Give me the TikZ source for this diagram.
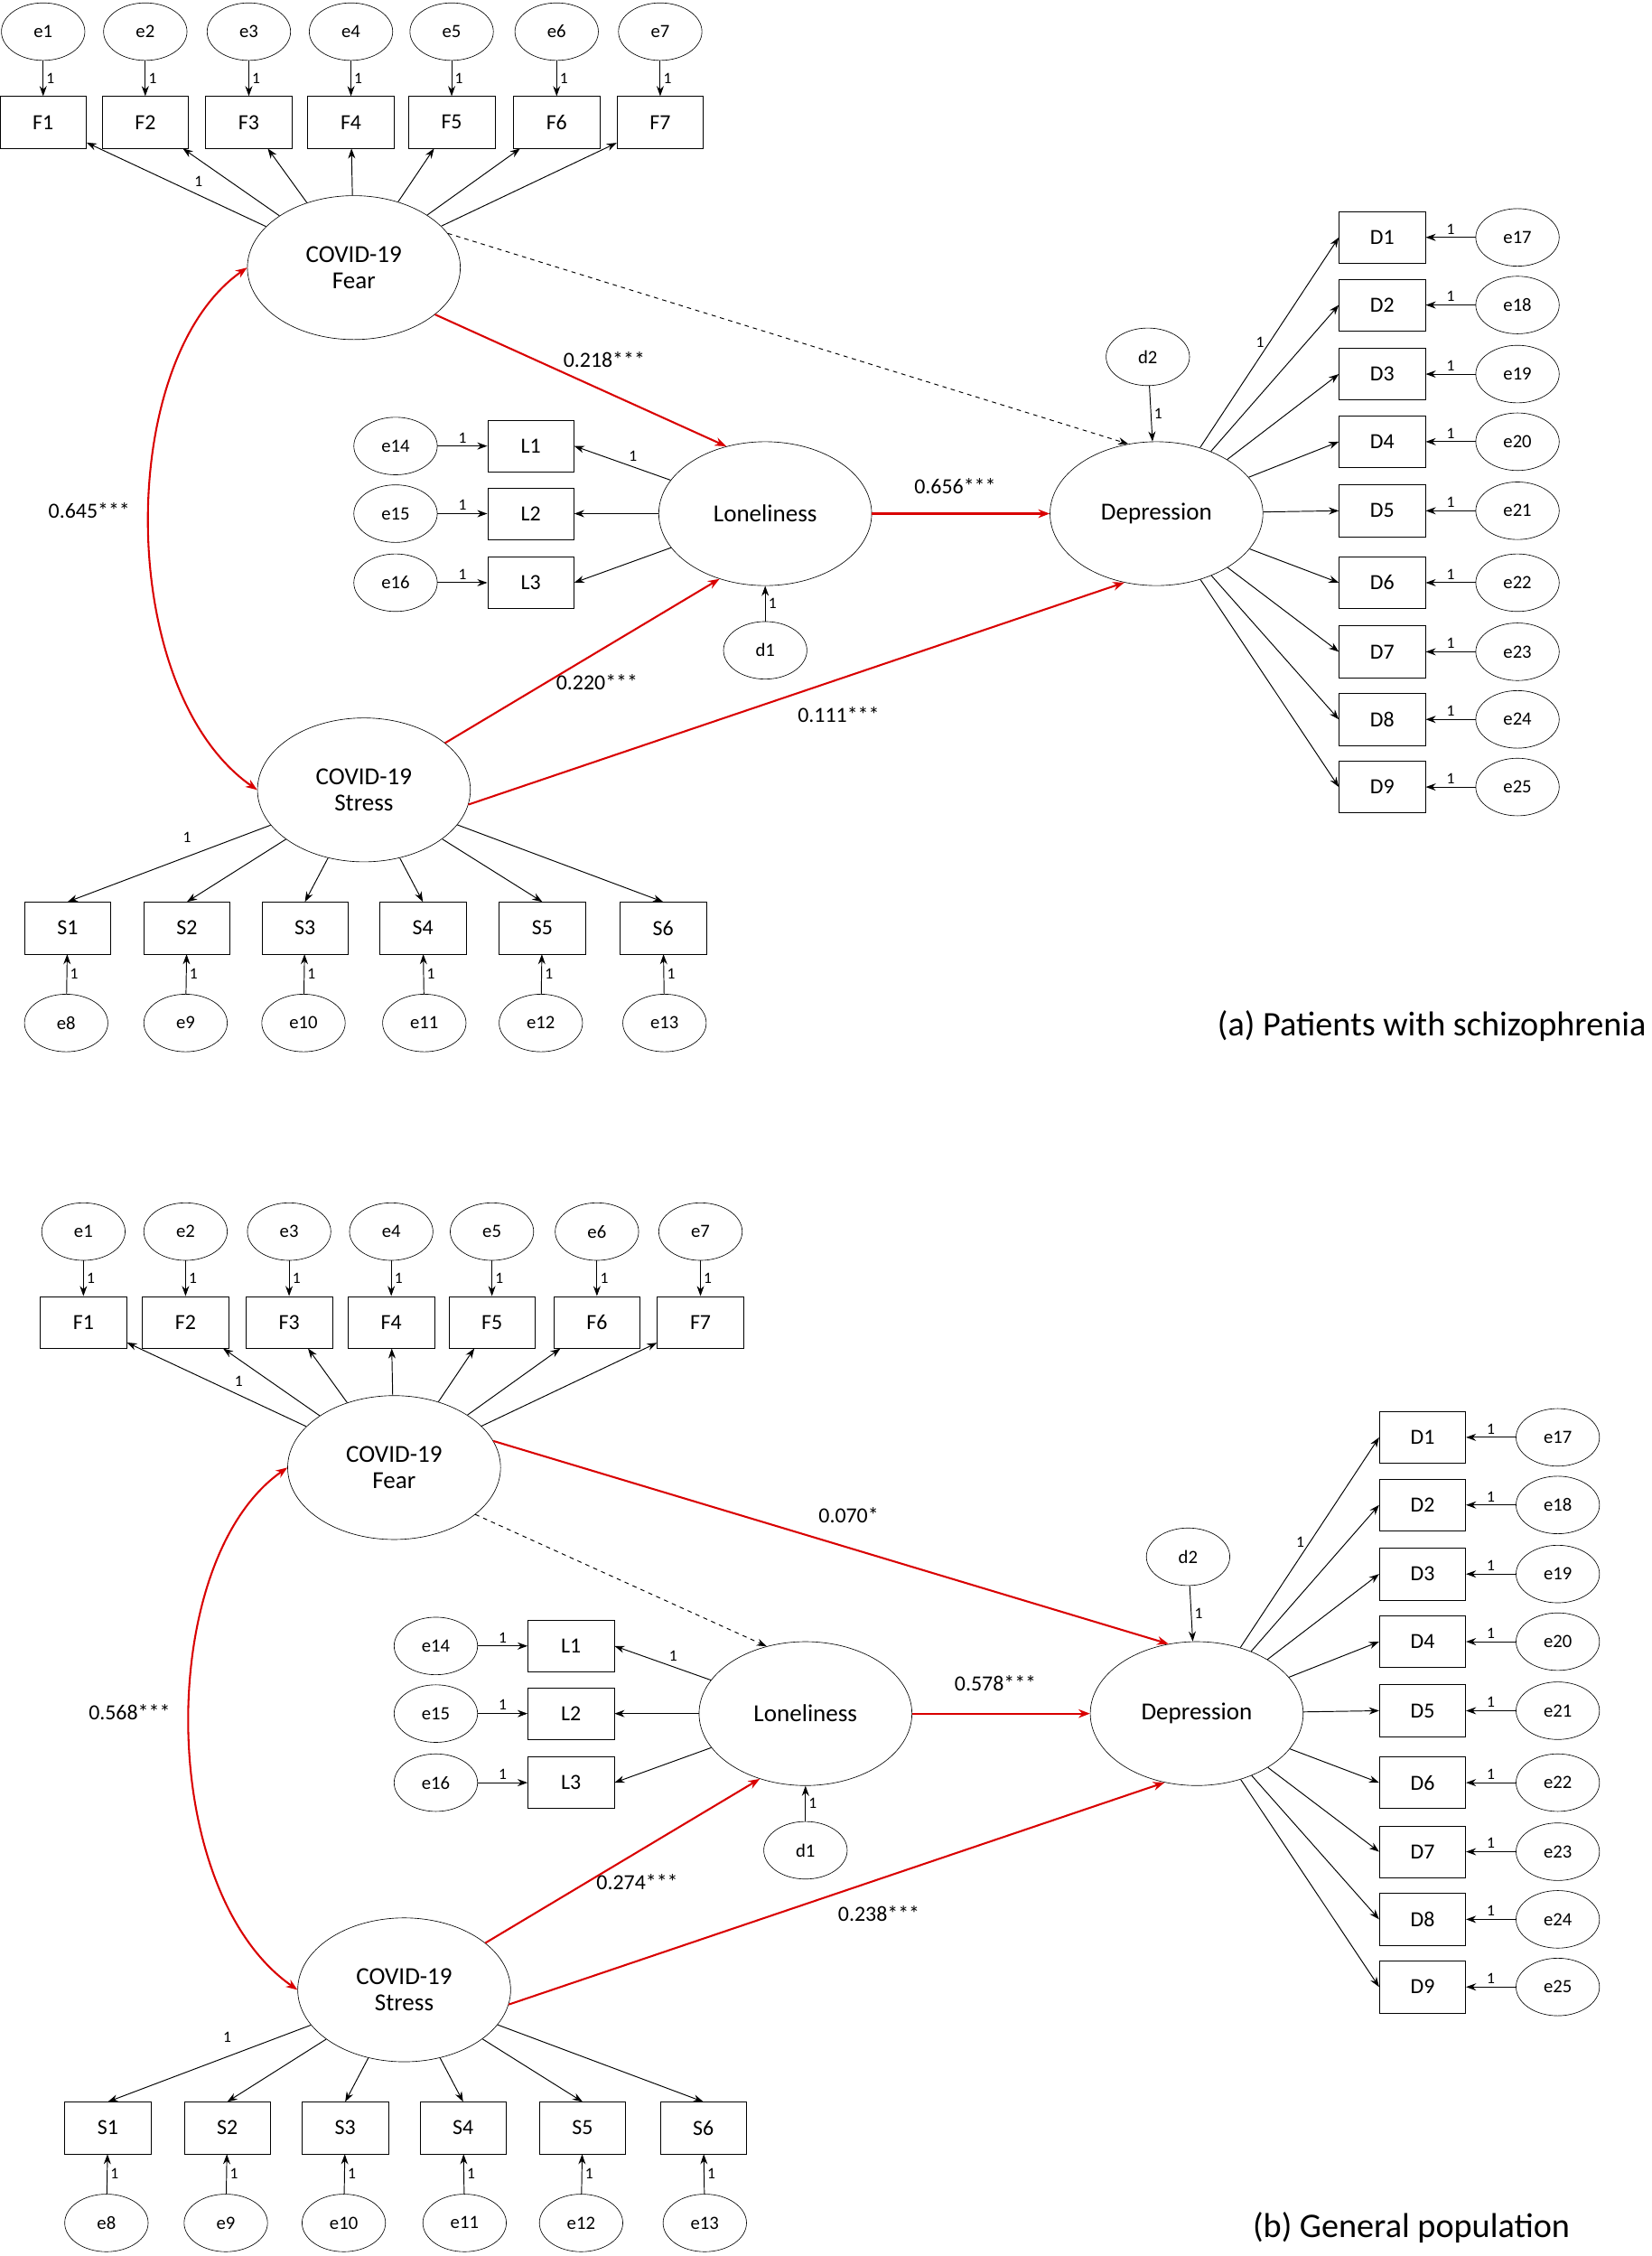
\documentclass[tikz,border=0pt]{standalone}
\usepackage{fontspec}
\setmainfont{Carlito}
\usetikzlibrary{shapes.geometric,arrows.meta}
\begin{document}
\begin{tikzpicture}[x=1pt,y=-1pt,
 box/.style={draw,minimum width=60pt,minimum height=36pt,inner sep=0pt,font=\fontsize{15}{15}\selectfont},
 err/.style={draw,ellipse,minimum width=58pt,minimum height=40pt,inner sep=0pt,font=\fontsize{13}{13}\selectfont},
 lat/.style={draw,ellipse,minimum width=148pt,minimum height=100pt,inner sep=0pt,align=center,font=\fontsize{17}{18}\selectfont},
 lbl/.style={font=\fontsize{11}{11}\selectfont,inner sep=2pt},
 coef/.style={font=\fontsize{15}{15}\selectfont},
 arr/.style={-{Stealth[length=7pt,width=5pt]},line width=0.6pt},
 rarr/.style={-{Stealth[length=8pt,width=6pt]},line width=1.3pt,red!85!black},
 darr/.style={arr,dashed}]
\useasboundingbox (0,0) rectangle (1148,1568);
\newcommand{\mypanel}[3]{%
\begin{scope}[shift={(#2,#3)}]
 \foreach \i/\x in {1/30,2/101,3/173,4/244,5/314,6/387,7/459}{
  \node[err] (#1e\i) at (\x,22) {e\i};
  \node[box] (#1F\i) at (\x,85) {F\i};
  \draw[arr] (#1e\i) -- node[right,lbl]{1} (#1F\i);}
 \node[lat] (#1fear) at (246,186) {COVID-19\\Fear};
 \node[lat] (#1stress) at (253,549) {COVID-19\\Stress};
 \node[lat] (#1lone) at (532,357) {Loneliness};
 \node[lat] (#1dep) at (804,357) {Depression};
 \foreach \i in {1,...,7}{\draw[arr] (#1fear) -- (#1F\i);}
 \node[lbl] at (138,126) {1};
 \foreach \i/\y [evaluate=\i as \e using int(\i+16)] in {1/165,2/212,3/260,4/307,5/355,6/405,7/453,8/500,9/547}{
  \node[box] (#1D\i) at (961,\y) {D\i};
  \node[err] (#1f\i) at (1055,\y) {e\e};
  \draw[arr] (#1f\i) -- node[above,lbl]{1} (#1D\i);
  \draw[arr] (#1dep) -- (#1D\i.west);}
 \node[lbl] at (876,238) {1};
 \node[err] (#1d2) at (798,248) {d2};
 \draw[arr] (#1d2) -- node[right,lbl]{1} (#1dep);
 \foreach \i/\y [evaluate=\i as \e using int(\i+13)] in {1/310,2/357,3/405}{
  \node[box] (#1L\i) at (369,\y) {L\i};
  \node[err] (#1g\i) at (275,\y) {e\e};
  \draw[arr] (#1g\i) -- node[above,lbl]{1} (#1L\i);
  \draw[arr] (#1lone) -- (#1L\i.east);}
 \node[lbl] at (440,317) {1};
 \node[err] (#1d1) at (532,452) {d1};
 \draw[arr] (#1d1) -- node[right,lbl]{1} (#1lone);
 \foreach \i/\x/\xe [evaluate=\i as \e using int(\i+7)] in {1/47/46,2/130/129,3/212/211,4/294/295,5/377/376,6/461/462}{
  \node[box] (#1S\i) at (\x,645) {S\i};
  \node[err] (#1h\i) at (\xe,711) {e\e};
  \draw[arr] (#1h\i) -- node[right,lbl]{1} (#1S\i);
  \draw[arr] (#1stress) -- (#1S\i.north);}
 \node[lbl] at (130,582) {1};
 \draw[rarr] (#1lone) -- (#1dep);
 \draw[rarr] (#1stress.30) -- (#1lone.235);
 \draw[rarr] (#1stress.352) -- (#1dep.245);
 \draw[rarr,{Stealth[length=8pt,width=6pt]}-{Stealth[length=8pt,width=6pt]}] (#1fear.west) .. controls (80,250) and (80,480) .. (#1stress.west);
\end{scope}}
\mypanel{a}{0}{0}
\mypanel{b}{28}{834}
\draw[rarr] (afear.330) -- (alone.120);
\draw[darr] (afear.20) -- (adep.112);
\draw[rarr] (bfear.15) -- (bdep.112);
\draw[darr] (bfear.330) -- (blone.120);
\node[coef] at (420,250) {0.218***};
\node[coef] at (664,338) {0.656***};
\node[coef] at (62,355) {0.645***};
\node[coef] at (415,474) {0.220***};
\node[coef] at (583,497) {0.111***};
\node[coef] at (590,1053) {0.070*};
\node[coef] at (692,1170) {0.578***};
\node[coef] at (90,1190) {0.568***};
\node[coef] at (443,1308) {0.274***};
\node[coef] at (611,1330) {0.238***};
\node[anchor=east,font=\fontsize{24}{24}\selectfont] at (1148,713) {(a) Patients with schizophrenia};
\node[anchor=east,font=\fontsize{24}{24}\selectfont] at (1095,1548) {(b) General population};
\end{tikzpicture}
\end{document}
